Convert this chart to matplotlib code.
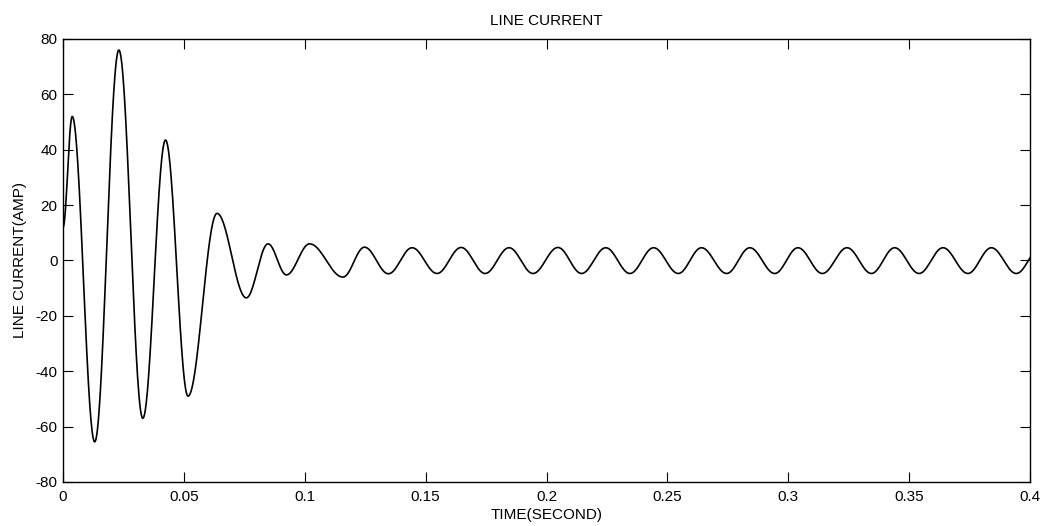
import numpy as np
import matplotlib.pyplot as plt

plt.rcParams['font.family'] = ['Liberation Sans', 'DejaVu Sans']
plt.rcParams['axes.unicode_minus'] = False

# extrema of the line current (time in s, current in A)
peak_times = [0.0, 0.0038, 0.0131, 0.0231, 0.0330, 0.0424, 0.0517, 0.0637, 0.0758,
              0.0848, 0.0924, 0.1020, 0.1158, 0.1247, 0.1346, 0.1444, 0.1547,
              0.1647, 0.1746, 0.1845, 0.1944, 0.2047, 0.2145, 0.2245, 0.2345,
              0.2443, 0.2545, 0.2641, 0.2745, 0.2841, 0.2944, 0.3040, 0.3141,
              0.3243, 0.3344, 0.3440, 0.3541, 0.3640, 0.3743, 0.3840, 0.3943, 0.4043]
peak_values = [12.0, 52.0, -65.5, 76.0, -57.0, 43.5, -49.0, 17.0, -13.5,
               6.0, -5.2, 6.0, -6.0, 4.8, -4.8, 4.6, -4.7,
               4.7, -4.7, 4.6, -4.7, 4.7, -4.7, 4.6, -4.7,
               4.6, -4.7, 4.6, -4.7, 4.6, -4.7, 4.6, -4.7,
               4.6, -4.7, 4.6, -4.7, 4.6, -4.7, 4.6, -4.7, 4.6]

x_ticks = [0, 0.05, 0.1, 0.15, 0.2, 0.25, 0.3, 0.35, 0.4]
x_ticklabels = ['0', '0.05', '0.1', '0.15', '0.2', '0.25', '0.3', '0.35', '0.4']
y_ticks = [-80, -60, -40, -20, 0, 20, 40, 60, 80]

# smooth half-cosine swing between consecutive extrema
t_all, v_all = [], []
for i in range(len(peak_times) - 1):
    t0, t1 = peak_times[i], peak_times[i + 1]
    v0, v1 = peak_values[i], peak_values[i + 1]
    t = np.linspace(t0, t1, 60, endpoint=False)
    v = (v0 + v1) / 2 + (v0 - v1) / 2 * np.cos(np.pi * (t - t0) / (t1 - t0))
    t_all.append(t)
    v_all.append(v)
t_all = np.concatenate(t_all)
v_all = np.concatenate(v_all)

fig = plt.figure(figsize=(10.47, 5.26), dpi=100)
ax = fig.add_axes([0.0602, 0.0837, 0.9236, 0.8422])
ax.plot(t_all, v_all, color='black', linewidth=1.2)

ax.set_xlim(0, 0.4)
ax.set_ylim(-80, 80)
ax.set_xticks(x_ticks)
ax.set_xticklabels(x_ticklabels)
ax.set_yticks(y_ticks)
ax.tick_params(direction='in', top=True, right=True, length=7, width=0.8,
               labelsize=11, pad=4)
ax.tick_params(axis='x', pad=6)
for s in ax.spines.values():
    s.set_linewidth(1.0)

ax.set_title('LINE CURRENT', fontsize=11, pad=10)
ax.set_xlabel('TIME(SECOND)', fontsize=11, labelpad=3)
ax.set_ylabel('LINE CURRENT(AMP)', fontsize=11, labelpad=6)

fig.savefig('out.png', dpi=100)
